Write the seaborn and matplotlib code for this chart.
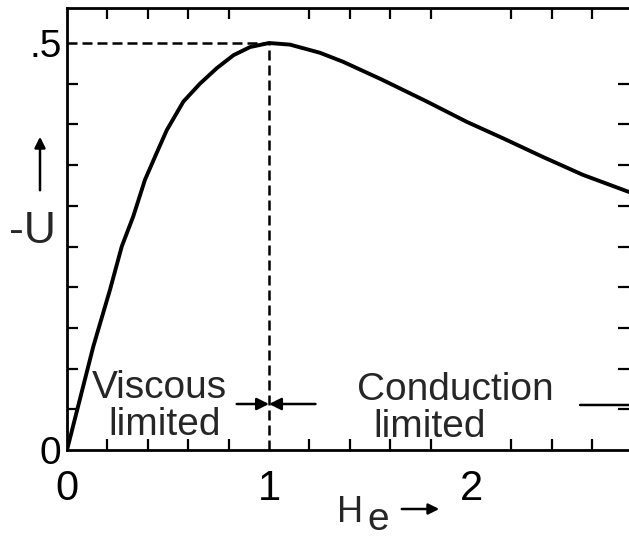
import numpy as np
import pandas as pd
import matplotlib
matplotlib.use("Agg")
import matplotlib.pyplot as plt
import matplotlib.patches as mpatches
import matplotlib.font_manager as fm
import seaborn as sns

# Hartmann number H_e and the nondimensional velocity -U along the curve
H_e = [0.0, 0.13, 0.213, 0.271, 0.328, 0.386, 0.444, 0.494, 0.576, 0.658,
       0.741, 0.824, 0.906, 1.0, 1.104, 1.252, 1.366, 1.559, 1.782, 1.98,
       2.158, 2.356, 2.554, 2.782]
neg_U = [0.0, 0.127, 0.197, 0.250, 0.287, 0.332, 0.365, 0.393, 0.428, 0.450,
         0.469, 0.485, 0.495, 0.5, 0.498, 0.488, 0.477, 0.455, 0.428, 0.403,
         0.383, 0.360, 0.338, 0.317]

x_tick_vals = [0, 1, 2]
x_tick_text = ["0", "1", "2"]
y_tick_vals = [0, 0.5]
y_tick_text = ["0", ".5"]

W, Hpx = 629, 541

sns.set_theme(style="ticks")
names = {f.name for f in fm.fontManager.ttflist}
FONT = "Liberation Sans Narrow" if "Liberation Sans Narrow" in names else "Liberation Sans"
plt.rcParams["font.family"] = [FONT, "DejaVu Sans"]

fig = plt.figure(figsize=(W / 100, Hpx / 100), dpi=100)
fig.patch.set_facecolor("white")
ax = fig.add_axes([67 / W, (Hpx - 450) / Hpx, (W - 67) / W, 442 / Hpx])
ax.set_facecolor("white")

df = pd.DataFrame({"H": H_e, "U": neg_U})
sns.lineplot(data=df, x="H", y="U", ax=ax, color="black", lw=2.8,
             sort=False, estimator=None)

ax.set_xlim(0, 2.782)
ax.set_ylim(0, 0.543)
ax.set_xlabel("")
ax.set_ylabel("")

# dashed guides to the maximum
i_max = int(np.argmax(neg_U))
h_pk, u_pk = H_e[i_max], neg_U[i_max]
ax.plot([0, h_pk], [u_pk, u_pk], color="black", lw=1.8, ls=(0, (4, 2)))
ax.plot([h_pk, h_pk], [0, u_pk], color="black", lw=1.8, ls=(0, (4, 2)))

# spines and ticks
for s in ["left", "bottom", "top"]:
    ax.spines[s].set_linewidth(2.0)
    ax.spines[s].set_color("black")
ax.spines["right"].set_visible(False)

ax.set_xticks(x_tick_vals)
ax.set_xticklabels(x_tick_text)
ax.set_yticks(y_tick_vals)
ax.set_yticklabels(y_tick_text)
ax.set_xticks(np.round(np.arange(0.2, 2.7, 0.2), 2), minor=True)
ax.set_yticks(np.round(np.arange(0.05, 0.51, 0.05), 2), minor=True)
ax.tick_params(axis="both", which="major", length=0, colors="black")
ax.tick_params(axis="x", which="major", pad=14, labelsize=30)
ax.tick_params(axis="y", which="major", pad=4, labelsize=28)
ax.tick_params(axis="both", which="minor", direction="in", length=8,
               width=1.6, color="black", top=True, right=True)

# region annotations
ax.text(0.455, 0.064, "Viscous", fontsize=28, ha="center", va="baseline")
ax.text(0.485, 0.018, "limited", fontsize=28, ha="center", va="baseline")
ax.text(1.921, 0.061, "Conduction", fontsize=28, ha="center", va="baseline")
ax.text(1.797, 0.016, "limited", fontsize=28, ha="center", va="baseline")

arrow = dict(arrowstyle="-|>", lw=1.8, color="black", mutation_scale=18,
             shrinkA=0, shrinkB=0)
ax.annotate("", xy=(h_pk, 0.0565), xytext=(0.84, 0.0565), arrowprops=arrow)
ax.annotate("", xy=(h_pk, 0.0565), xytext=(1.23, 0.0565), arrowprops=arrow)
ax.annotate("", xy=(2.95, 0.0553), xytext=(2.54, 0.0553), arrowprops=arrow,
            annotation_clip=False)


def fp(x, y):
    return (x / W, 1 - y / Hpx)


# axis labels with their arrows
fig.text(*fp(32, 243), "-U", fontsize=32, ha="center", va="baseline")
fig.add_artist(mpatches.FancyArrowPatch(
    fp(40, 193), fp(40, 134), transform=fig.transFigure,
    arrowstyle="-|>", lw=1.8, color="black", mutation_scale=16))

fig.text(*fp(337, 522), "H", fontsize=26, ha="left", va="baseline")
fig.text(*fp(367, 530), "e", fontsize=28, ha="left", va="baseline")
fig.add_artist(mpatches.FancyArrowPatch(
    fp(399, 509), fp(442, 509), transform=fig.transFigure,
    arrowstyle="-|>", lw=1.8, color="black", mutation_scale=16))

fig.savefig("out.png", dpi=100, facecolor="white")
